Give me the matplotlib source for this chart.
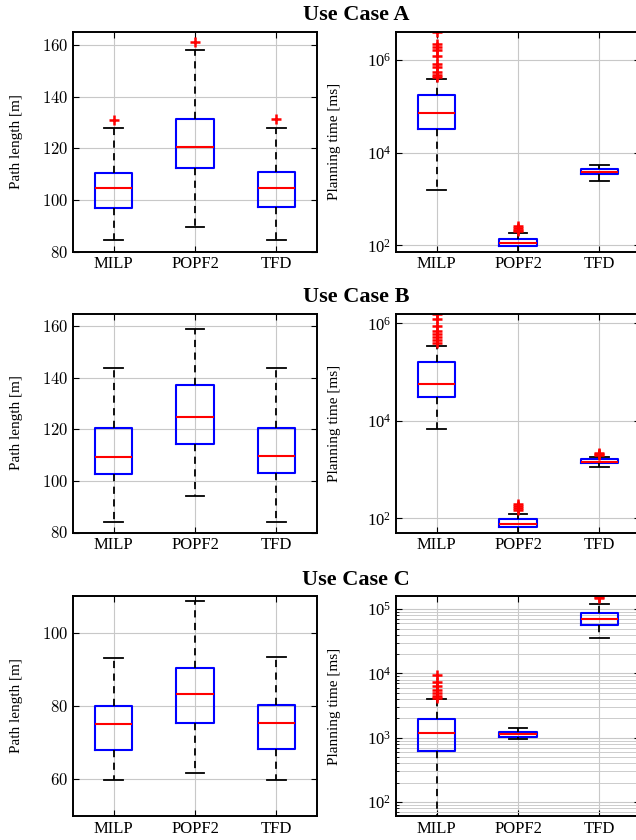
import matplotlib
matplotlib.use('Agg')
import matplotlib.pyplot as plt
from matplotlib.ticker import FuncFormatter, LogLocator, NullFormatter

plt.rcParams['font.family'] = ['Liberation Serif', 'DejaVu Serif']
plt.rcParams['mathtext.fontset'] = 'cm'

methods = ['MILP', 'POPF2', 'TFD']
cases = ['A', 'B', 'C']

# (whisker low, q1, median, q3, whisker high) per method
path_a = [(84.4, 97.0, 104.5, 110.4, 127.8), (89.4, 112.2, 120.5, 131.4, 158.2), (84.5, 97.2, 104.6, 110.7, 127.8)]
path_a_out = [[131.1], [161.2], [131.3]]
time_a = [(1550, 3.2e4, 7.0e4, 1.74e5, 3.9e5), (60, 97, 113, 141, 190), (2430, 3480, 3850, 4380, 5430)]
time_a_out = [[4.1e6, 2.2e6, 1.9e6, 1.6e6, 1.2e6, 8e5, 7e5, 5.5e5, 4.8e5, 4.3e5],
              [205, 220, 240, 260], []]

path_b = [(84.0, 102.8, 109.2, 120.7, 143.8), (94.3, 114.3, 124.7, 137.1, 159.1), (84.1, 103.1, 109.5, 120.7, 144.0)]
path_b_out = [[], [], []]
time_b = [(6850, 3.07e4, 5.6e4, 1.58e5, 3.4e5), (40, 66, 77, 97, 125), (1135, 1350, 1460, 1620, 1800)]
time_b_out = [[1.55e6, 1.25e6, 9e5, 7e5, 6e5, 5.2e5, 4.5e5, 4e5],
              [145, 160, 175, 200], [2000, 2100, 2200]]

path_c = [(59.7, 68.0, 75.2, 80.1, 93.2), (61.7, 75.5, 83.4, 90.3, 108.6), (59.8, 68.2, 75.4, 80.2, 93.3)]
path_c_out = [[], [], []]
time_c = [(40, 630, 1210, 1960, 3950), (945, 1040, 1130, 1220, 1420), (3.5e4, 5.6e4, 7.1e4, 8.6e4, 1.2e5)]
time_c_out = [[9.4e3, 7.5e3, 6.5e3, 5.5e3, 5e3, 4.5e3, 4.2e3], [], [1.57e5, 1.5e5]]

path_lims = [(80, 165), (80, 165), (50, 110)]
time_lims = [(74, 4e6), (51, 1.6e6), (61, 1.6e5)]
path_ticks = [[80, 100, 120, 140, 160], [80, 100, 120, 140, 160], [60, 80, 100]]
time_ticks = [[1e2, 1e4, 1e6], [1e2, 1e4, 1e6], [1e2, 1e3, 1e4, 1e5]]


def make_stats(boxes, outs):
    stats = []
    for (lo, q1, med, q3, hi), fl in zip(boxes, outs):
        stats.append(dict(whislo=lo, q1=q1, med=med, q3=q3, whishi=hi, fliers=fl))
    return stats


def draw(ax, boxes, outs):
    ax.bxp(make_stats(boxes, outs), positions=[1, 2, 3], widths=0.46, capwidths=0.23,
           boxprops=dict(color='blue', linewidth=1.5),
           medianprops=dict(color='red', linewidth=1.5),
           whiskerprops=dict(color='black', linestyle=(0, (4, 3)), linewidth=1.3),
           capprops=dict(color='black', linewidth=1.3),
           flierprops=dict(marker='+', markeredgecolor='red', markersize=7, markeredgewidth=1.8))
    ax.set_xticks([1, 2, 3])
    ax.set_xticklabels(methods, fontsize=11)
    ax.set_xlim(0.5, 3.5)
    ax.grid(True, color='#c8c8c8', linewidth=0.8)
    ax.set_axisbelow(True)
    ax.tick_params(direction='in', top=True, right=True, length=4, labelsize=12)
    for s in ax.spines.values():
        s.set_linewidth(1.4)


fig = plt.figure(figsize=(6.36, 8.4), dpi=100)
lefts = [73 / 636, 396 / 636]
w = 244 / 636
tops = [32, 313.5, 596]
bots = [251.5, 532.5, 816]
title_y = [15, 297, 580]

path_data = [(path_a, path_a_out), (path_b, path_b_out), (path_c, path_c_out)]
time_data = [(time_a, time_a_out), (time_b, time_b_out), (time_c, time_c_out)]

for i in range(3):
    y0 = 1 - bots[i] / 840
    h = (bots[i] - tops[i]) / 840

    ax1 = fig.add_axes([lefts[0], y0, w, h])
    draw(ax1, *path_data[i])
    ax1.set_ylim(*path_lims[i])
    ax1.set_yticks(path_ticks[i])
    ax1.yaxis.set_major_formatter(FuncFormatter(lambda v, p: '$%d$' % v))
    ax1.set_ylabel('Path length [m]', fontsize=11)
    ax1.yaxis.set_label_coords(-0.205, 0.5)

    ax2 = fig.add_axes([lefts[1], y0, w, h])
    ax2.set_yscale('log')
    draw(ax2, *time_data[i])
    ax2.set_ylim(*time_lims[i])
    ax2.set_yticks(time_ticks[i])
    if i == 2:
        ax2.yaxis.set_minor_locator(LogLocator(base=10, subs=range(2, 10)))
        ax2.yaxis.set_minor_formatter(NullFormatter())
        ax2.grid(True, which='minor', axis='y', color='#cccccc', linewidth=0.7)
        ax2.tick_params(which='minor', direction='in', right=True, length=2)
    else:
        ax2.yaxis.set_minor_locator(plt.NullLocator())
    ax2.set_ylabel('Planning time [ms]', fontsize=11)
    ax2.yaxis.set_label_coords(-0.225, 0.5)

    fig.text(356 / 636, 1 - title_y[i] / 840, 'Use Case ' + cases[i], ha='center', va='center',
             fontsize=16, fontweight='bold')

fig.savefig('out.png', dpi=100)
